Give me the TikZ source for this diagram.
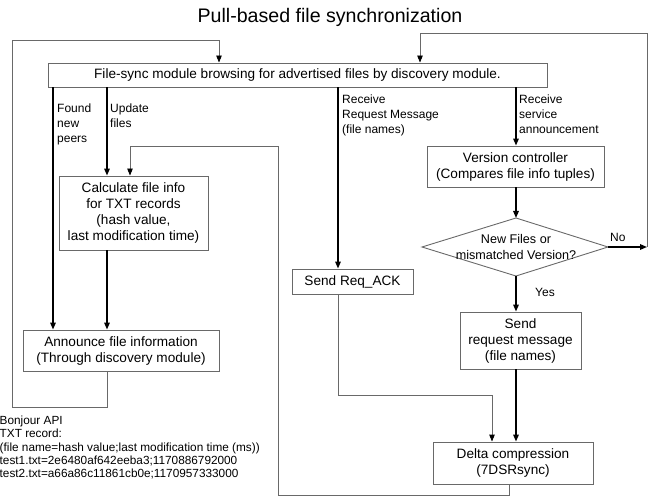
\documentclass[tikz,border=0pt]{standalone}
\usepackage{fontspec}
\setmainfont{Liberation Sans}
\usetikzlibrary{arrows.meta}
\definecolor{framegray}{RGB}{105,105,105}
\definecolor{wiregray}{RGB}{105,105,105}

\begin{document}
\begin{tikzpicture}[x=1pt,y=-1pt,
  box/.style={draw=framegray, line width=0.9pt, inner sep=0pt, align=center,
    font=\fontsize{13.6}{16}\selectfont},
  tip/.style={-{Triangle[length=7pt,width=5.5pt]}},
  bold/.style={tip, line width=1.5pt},
  thin/.style={draw=wiregray, line width=0.9pt,
    -{Triangle[length=7pt,width=5.5pt,color=black]}},
  lbl/.style={font=\fontsize{12}{15}\selectfont, align=left, inner sep=0pt, anchor=north west}]

\useasboundingbox (0,0) rectangle (653,497);

% title
\node[font=\fontsize{19.6}{22}\selectfont, inner sep=0pt] (title) at (330,17) {Pull-based file synchronization};

% boxes
\node[box, minimum width=499pt, minimum height=24pt] (top) at (297.5,75)
  {File-sync module browsing for advertised files by discovery module.};
\node[box, minimum width=149pt, minimum height=74pt] (calc) at (133.5,213)
  {Calculate file info\\for TXT records\\(hash value,\\last modification time)};
\node[box, minimum width=196pt, minimum height=41pt] (announce) at (121,350.5)
  {Announce file information\\(Through discovery module)};
\node[box, minimum width=121pt, minimum height=25pt] (reqack) at (352.5,281.5)
  {Send Req\_ACK};
\node[box, minimum width=177pt, minimum height=41pt] (version) at (515.5,166.5)
  {Version controller\\(Compares file info tuples)};
\node[box, minimum width=121pt, minimum height=57pt] (send) at (520.5,340.5)
  {Send\\request message\\(file names)};
\node[box, minimum width=160pt, minimum height=42pt] (delta) at (513,463)
  {Delta compression\\(7DSRsync)};

% decision diamond
\coordinate (dT) at (516,218);
\coordinate (dB) at (516,276);
\coordinate (dL) at (422,247);
\coordinate (dR) at (608,247);
\draw[framegray, line width=0.9pt] (dT) -- (dR) -- (dB) -- (dL) -- cycle;
\node[align=center, inner sep=0pt, font=\fontsize{12.6}{16}\selectfont] (decide) at (516,247)
  {New Files or\\mismatched Version?};

% bend points of the feedback wires
\coordinate (noEnd) at (647,247);
\coordinate (leftLow) at (12,407);
\coordinate (leftTop) at (12,40);
\coordinate (rightTop) at (647,33);
\coordinate (loopLow) at (278,495);
\coordinate (loopTop) at (278,146);
\coordinate (ackBend) at (338,395);

% main flow
\draw[bold] (top.south -| 53,0) -- (announce.north -| 53,0);
\draw[bold] (top.south -| 107,0) -- (calc.north -| 107,0);
\draw[bold] (calc.south -| 107,0) -- (announce.north -| 107,0);
\draw[bold] (top.south -| 338,0) -- (reqack.north -| 338,0);
\draw[bold] (top.south -| 516,0) -- (version.north -| 516,0);
\draw[bold] (version.south -| 516,0) -- (dT);
\draw[bold] (dB) -- (send.north -| 516,0);
\draw[bold] (send.south -| 516,0) -- (delta.north -| 516,0);
\draw[bold] (dR) -- (noEnd);

% feedback wires
\draw[thin] (announce.south -| 107,0) -- (107,407) -- (leftLow) -- (leftTop) -- (219,40) -- (top.north -| 219,0);
\draw[thin] (noEnd) -- (rightTop) -- (420,33) -- (top.north -| 420,0);
\draw[thin] (delta.south -| 509,0) -- (509,495) -- (loopLow) -- (loopTop) -- (130,146) -- (calc.north -| 130,0);
\draw[thin] (reqack.south -| 338,0) -- (ackBend) -- (492,395) -- (delta.north -| 492,0);

% wire labels
\node[lbl] (lFound) at (57,104) {Found\\new\\peers};
\node[lbl] (lUpdate) at (110,104) {Update\\files};
\node[lbl] (lReq) at (342,95) {Receive\\Request Message\\(file names)};
\node[lbl] (lSvc) at (519,95) {Receive\\service\\announcement};
\node[lbl] (lNo) at (610,233) {No};
\node[lbl] (lYes) at (535,288) {Yes};

% TXT record example
\node[anchor=north west, align=left, inner sep=0pt, font=\fontsize{11.8}{13.4}\selectfont] (txt) at (-0.5,415.5)
  {Bonjour API\\TXT record:\\(file name=hash value;last modification time (ms))\\test1.txt=2e6480af642eeba3;1170886792000\\test2.txt=a66a86c11861cb0e;1170957333000};
\end{tikzpicture}
\end{document}
